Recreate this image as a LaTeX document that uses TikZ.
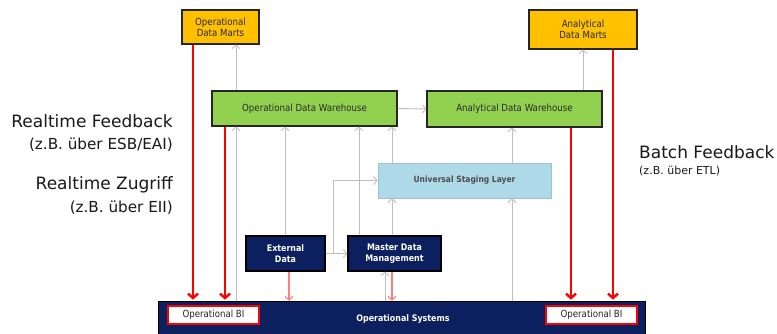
\documentclass[tikz,border=0pt]{standalone}
\usepackage{fontspec}
\setmainfont{DejaVu Sans}
\newfontfamily\boxfont[FakeStretch=0.88]{DejaVu Sans}
\usetikzlibrary{arrows.meta,shadows}
\definecolor{dmorange}{HTML}{FFC000}
\definecolor{dwgreen}{HTML}{92D050}
\definecolor{uslblue}{HTML}{AED9E8}
\definecolor{uslborder}{HTML}{9BC3D2}
\definecolor{navy}{HTML}{0C1F5E}
\definecolor{linegray}{HTML}{BFBFBF}
\definecolor{lightred}{HTML}{FF7C80}
\definecolor{boxtext}{HTML}{2A2A2A}
\tikzset{
  basebox/.style={draw, line width=1.1pt, inner sep=0pt, align=center,
    font=\boxfont\fontsize{9.8}{11}\selectfont, text=boxtext,
    drop shadow={shadow xshift=1.2pt, shadow yshift=-1.2pt, opacity=0.3}},
  orangebox/.style={basebox, fill=dmorange, draw=black!85},
  greenbox/.style={basebox, fill=dwgreen, draw=black!85},
  bluebox/.style={basebox, fill=uslblue, draw=uslborder, line width=0.8pt,
    font=\boxfont\fontsize{8.6}{10}\selectfont\bfseries, text=black!70},
  navybox/.style={basebox, fill=navy, draw=black, text=white,
    font=\boxfont\fontsize{9}{11}\selectfont\bfseries},
  osbox/.style={fill=navy, draw=black, line width=0.6pt, inner sep=0pt},
  bibox/.style={draw=red, line width=1.6pt, fill=white, inner sep=0pt,
    font=\boxfont\fontsize{9.8}{10}\selectfont, text=black!85},
  grayarrow/.style={draw=linegray, line width=0.9pt, -{Straight Barb[length=3.5pt,width=8pt]}},
  redarrow/.style={draw=red, line width=2.4pt, -{Straight Barb[length=4.5pt,width=10pt]}},
  lredarrow/.style={draw=lightred, line width=1.1pt, -{Straight Barb[length=3.5pt,width=8pt]}},
  biglabel/.style={font=\fontsize{17}{20}\selectfont, text=black!90, inner sep=0pt},
  smalllabel/.style={font=\fontsize{15.2}{18}\selectfont, text=black!90, inner sep=0pt},
  tinylabel/.style={font=\fontsize{11}{13}\selectfont, text=black!90, inner sep=0pt},
}
\begin{document}
\begin{tikzpicture}[x=1pt,y=-1pt]
\useasboundingbox[fill=white] (0,0) rectangle (777,334);
% coordinates for vertical connector positions
\coordinate (c193) at (193,0);
\coordinate (c225) at (225,0);
\coordinate (c236) at (236,0);
\coordinate (c285) at (285,0);
\coordinate (c289) at (289,0);
\coordinate (c333) at (333,0);
\coordinate (c359) at (359,0);
\coordinate (c385) at (385,0);
\coordinate (c392) at (392,0);
\coordinate (c512) at (512,0);
\coordinate (c571) at (571,0);
\coordinate (c583) at (583,0);
\coordinate (c613) at (613,0);

% operational systems (bottom, clipped)
\begin{scope}
\clip (0,0) rectangle (777,334);
\node[osbox, minimum width=487pt, minimum height=40pt] (os) at (401.5,321) {};
\end{scope}
\node[text=white, font=\boxfont\fontsize{9}{10}\selectfont\bfseries, inner sep=0pt] (oslabel) at (403,319) {Operational Systems};
\node[bibox, minimum width=91pt, minimum height=18pt] (bil) at (213.5,315) {Operational BI};
\node[bibox, minimum width=91pt, minimum height=18pt] (bir) at (591.5,315) {Operational BI};

% boxes
\node[orangebox, minimum width=77pt, minimum height=34pt] (odm) at (220.5,27) {Operational\\Data Marts};
\node[orangebox, minimum width=108pt, minimum height=39pt] (adm) at (583,29.5) {Analytical\\Data Marts};
\node[greenbox, minimum width=185pt, minimum height=35pt] (odw) at (304.5,108.5) {Operational Data Warehouse};
\node[greenbox, minimum width=175pt, minimum height=36pt] (adw) at (514.5,109) {Analytical Data Warehouse};
\node[bluebox, minimum width=173pt, minimum height=35pt] (usl) at (464.5,180.5) {Universal Staging Layer};
\node[navybox, minimum width=79pt, minimum height=35pt] (ext) at (285.5,253.5) {External\\Data};
\node[navybox, minimum width=93pt, minimum height=35pt] (mdm) at (394.5,253.5) {Master Data\\Management};

% gray connectors
\draw[grayarrow] (odw.north -| c236) -- (odm.south -| c236);
\draw[grayarrow] (adw.north -| c583) -- (adm.south -| c583);
\draw[grayarrow] (odw.east) -- (adw.west);
\draw[grayarrow] (os.north -| c236) -- (odw.south -| c236);
\draw[grayarrow] (ext.north -| c285) -- (odw.south -| c285);
\draw[grayarrow] (mdm.north -| c359) -- (odw.south -| c359);
\draw[grayarrow] (mdm.north -| c392) -- (usl.south -| c392);
\draw[grayarrow] (usl.north -| c392) -- (odw.south -| c392);
\draw[grayarrow] (ext.east) -- (mdm.west);
\coordinate (branch) at (ext.east -| c333);
\draw[grayarrow] (branch) |- (usl.west);
\draw[grayarrow] (os.north -| c385) -- (mdm.south -| c385);
\draw[grayarrow] (os.north -| c512) -- (usl.south -| c512);
\draw[grayarrow] (usl.north -| c512) -- (adw.south -| c512);

% red feedback connectors
\draw[redarrow] (odm.south -| c193) -- ([yshift=1pt]os.north -| c193);
\draw[redarrow] (odw.south -| c225) -- ([yshift=1pt]os.north -| c225);
\draw[redarrow] (adw.south -| c571) -- ([yshift=1pt]os.north -| c571);
\draw[redarrow] (adm.south -| c613) -- ([yshift=1pt]os.north -| c613);
\draw[lredarrow] (ext.south -| c289) -- (os.north -| c289);
\draw[lredarrow] (mdm.south -| c392) -- (os.north -| c392);

% side labels
\node[biglabel, anchor=east] (rtf) at (173,121) {Realtime Feedback};
\node[smalllabel, anchor=east] (rtfs) at (173,145) {(z.B. über ESB/EAI)};
\node[biglabel, anchor=east] (rtz) at (173,185) {Realtime Zugriff};
\node[smalllabel, anchor=east] (rtzs) at (173,208) {(z.B. über EII)};
\node[biglabel, anchor=west] (bf) at (639,152) {Batch Feedback};
\node[tinylabel, anchor=west] (bfs) at (639,171) {(z.B. über ETL)};
\end{tikzpicture}
\end{document}
